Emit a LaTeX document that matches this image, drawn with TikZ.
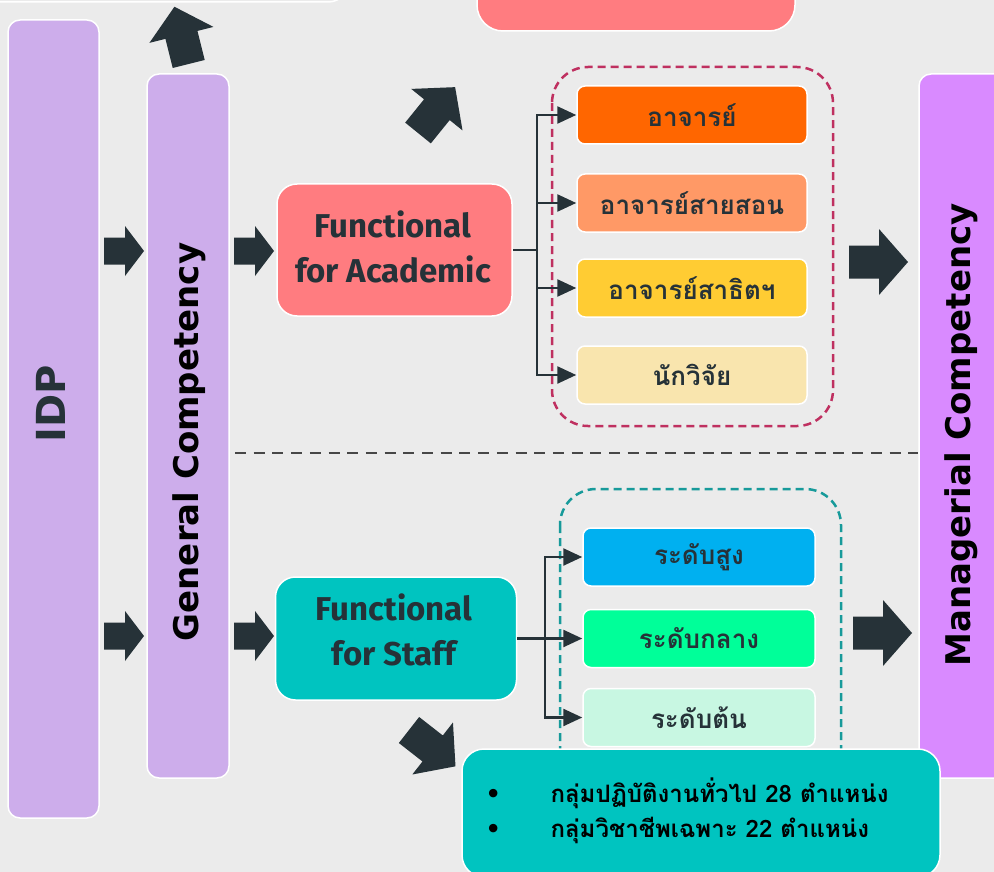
\documentclass[tikz,border=0pt]{standalone}
\usepackage{fontspec}
\setmainfont{Fira Sans}
\newfontfamily\vfont{DejaVu Sans}
\newfontfamily\thaifont[Script=Thai]{Loma}
\newfontfamily\symfont{DejaVu Sans}
\usetikzlibrary{arrows.meta}
\definecolor{bg}{HTML}{EBEBEB}
\definecolor{lav}{HTML}{CDADEB}
\definecolor{violet}{HTML}{D98AFF}
\definecolor{salmon}{HTML}{FF7C80}
\definecolor{teal}{HTML}{00C4C0}
\definecolor{dark}{HTML}{263238}
\definecolor{orng}{HTML}{FF6600}
\definecolor{lorng}{HTML}{FF9966}
\definecolor{yell}{HTML}{FFCC33}
\definecolor{cream}{HTML}{F9E5AE}
\definecolor{blu}{HTML}{00B0F0}
\definecolor{grn}{HTML}{00FF99}
\definecolor{mint}{HTML}{C8F7E2}
\definecolor{crim}{HTML}{BF3060}
\definecolor{tealdash}{HTML}{179A9A}
\definecolor{sep}{HTML}{474747}
\tikzset{
  box/.style={draw=white, line width=1.5pt, inner sep=0pt},
  subbox/.style={box, rounded corners=8pt, minimum width=230pt, minimum height=58pt,
    text=dark, font=\thaifont\bfseries\fontsize{26}{30}\selectfont},
  vlabel/.style={rotate=90, font=\vfont\bfseries\fontsize{34}{38}\selectfont},
  funtext/.style={text=dark, align=center, font=\bfseries\fontsize{33}{45}\selectfont},
  conn/.style={draw=dark, line width=2.5pt},
  connarr/.style={conn, -{Triangle[length=19pt,width=17pt]}},
  bigarrow/.pic={\fill[dark] (0,-16.5) -- (30,-16.5) -- (30,-33) -- (59,0) -- (30,33) -- (30,16.5) -- (0,16.5) -- cycle;},
  smallarrow/.pic={\fill[dark] (0,-13.5) -- (21,-13.5) -- (21,-25) -- (40,0) -- (21,25) -- (21,13.5) -- (0,13.5) -- cycle;},
}
\begin{document}
\begin{tikzpicture}[x=1pt,y=-1pt]
\useasboundingbox (0,0) rectangle (994,872);
\fill[bg] (0,0) rectangle (994,872);

% top partial boxes
\node[box, fill=bg, rounded corners=22pt, minimum width=370pt, minimum height=70pt] (topleft) at (165,-33) {};
\node[box, fill=salmon, rounded corners=26pt, minimum width=318pt, minimum height=80pt] (topmid) at (636,-9) {};

% columns
\node[box, fill=lav, rounded corners=12pt, minimum width=91pt, minimum height=798pt] (idp) at (53.5,419) {};
\node[vlabel, text=dark, font=\vfont\bfseries\fontsize{40}{44}\selectfont] (idpt) at (51,404) {IDP};
\node[box, fill=lav, rounded corners=12pt, minimum width=82pt, minimum height=704pt] (gc) at (188,426) {};
\node[vlabel] (gct) at (189,442) {General Competency};
\node[box, fill=violet, rounded corners=12pt, minimum width=92pt, minimum height=704pt] (mc) at (965,426) {};
\node[vlabel] (mct) at (961,435) {Managerial Competency};

% separator
\coordinate (sepa) at (235,453);
\coordinate (sepb) at (918,453);
\draw[sep, line width=2.5pt, dash pattern=on 11pt off 7.7pt] (sepa) -- (sepb);

% functional boxes
\node[box, fill=salmon, rounded corners=20pt, minimum width=235pt, minimum height=132pt] (fa) at (394.5,250) {};
\node[funtext] (fat) at (393,247) {Functional\\for Academic};
\node[box, fill=teal, rounded corners=20pt, minimum width=241pt, minimum height=123pt] (fs) at (396,638.5) {};
\node[funtext] (fst) at (394,630) {Functional\\for Staff};

% dashed groups
\draw[crim, line width=2.5pt, dash pattern=on 8pt off 5pt, rounded corners=36pt] (552,67) rectangle (833,426);
\draw[tealdash, line width=2.5pt, dash pattern=on 8pt off 5pt, rounded corners=36pt] (560,489) rectangle (841,800);

% academic sub boxes
\node[subbox, fill=orng] (a1) at (692,115) {อาจารย์};
\node[subbox, fill=lorng] (a2) at (692,203) {อาจารย์สายสอน};
\node[subbox, fill=yell] (a3) at (692,288) {อาจารย์สาธิตฯ};
\node[subbox, fill=cream] (a4) at (692,375) {นักวิจัย};

% staff sub boxes
\node[subbox, fill=blu, minimum width=232pt] (s1) at (699,557) {ระดับสูง};
\node[subbox, fill=grn, minimum width=232pt] (s2) at (699,638.5) {ระดับกลาง};
\node[subbox, fill=mint, minimum width=232pt] (s3) at (699,717.5) {ระดับต้น};

% connectors academic
\coordinate (ja) at (537,250);
\draw[conn] (fa.east) -- (ja);
\draw[connarr] (ja) |- (a1.west);
\draw[connarr] (ja) |- (a2.west);
\draw[connarr] (ja) |- (a3.west);
\draw[connarr] (ja) |- (a4.west);

% connectors staff
\coordinate (js) at (545,638.5);
\draw[connarr] (fs.east) -- (s2.west);
\draw[connarr] (js) |- (s1.west);
\draw[connarr] (js) |- (s3.west);

% block arrows
\pic at (104,251) {smallarrow};
\pic at (104,636) {smallarrow};
\pic at (234,251) {smallarrow};
\pic at (234,636) {smallarrow};
\pic at (849,262) {bigarrow};
\pic at (853,633) {bigarrow};
\pic[rotate=104] at (188.7,64) {bigarrow};
\pic[rotate=51] at (418,133) {bigarrow};
\pic[rotate=-38] at (409,730) {bigarrow};

% bottom box
\node[box, fill=teal, rounded corners=22pt, minimum width=478pt, minimum height=128pt] (bot) at (701,813) {};
\node[anchor=west, align=left, font=\thaifont\bfseries\fontsize{24}{35}\selectfont] (bott) at (482,811)
  {\makebox[65pt][l]{\symfont •}กลุ่มปฏิบัติงานทั่วไป 28 ตำแหน่ง\\
   \makebox[65pt][l]{\symfont •}กลุ่มวิชาชีพเฉพาะ 22 ตำแหน่ง};
\end{tikzpicture}
\end{document}
